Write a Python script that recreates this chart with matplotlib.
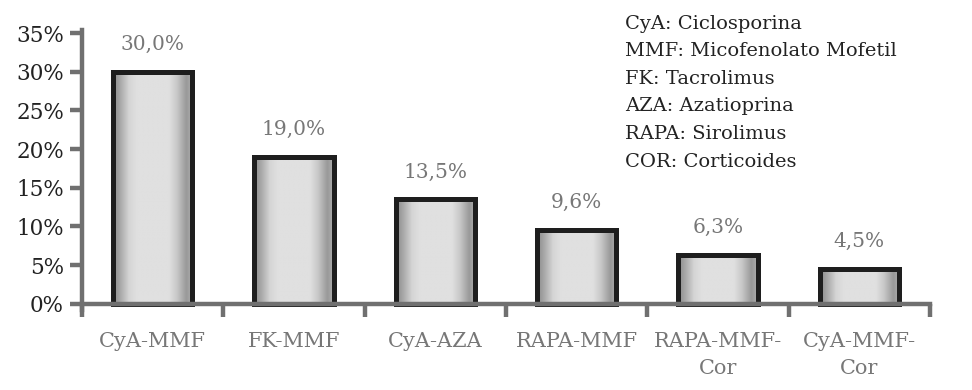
import numpy as np
import matplotlib
matplotlib.use("Agg")
import matplotlib.pyplot as plt
from matplotlib.colors import LinearSegmentedColormap

categories = ["CyA-MMF", "FK-MMF", "CyA-AZA", "RAPA-MMF", "RAPA-MMF-\nCor", "CyA-MMF-\nCor"]
values = [30.0, 19.0, 13.5, 9.6, 6.3, 4.5]
value_labels = ["30,0%", "19,0%", "13,5%", "9,6%", "6,3%", "4,5%"]
yticks = [0, 5, 10, 15, 20, 25, 30, 35]
ytick_labels = ["0%", "5%", "10%", "15%", "20%", "25%", "30%", "35%"]
legend_lines = ["CyA: Ciclosporina", "MMF: Micofenolato Mofetil", "FK: Tacrolimus",
                "AZA: Azatioprina", "RAPA: Sirolimus", "COR: Corticoides"]

plt.rcParams['font.family'] = ['DejaVu Serif']
fig = plt.figure(figsize=(9.72, 3.90), dpi=100)
ax = fig.add_axes([82/972, 80/390, (930-82)/972, (310-30)/390])

axis_col = "#707070"
x = np.arange(len(categories))
bars = ax.bar(x, values, width=0.56, facecolor="none", edgecolor="#1e1e1e",
              linewidth=3.6, zorder=3)

# horizontal gradient fill
grad = LinearSegmentedColormap.from_list("g", [
    (0.0, "#8a8a8a"), (0.08, "#a5a5a5"), (0.2, "#d5d5d5"), (0.3, "#e0e0e0"),
    (0.7, "#e0e0e0"), (0.8, "#c8c8c8"), (0.92, "#999999"), (1.0, "#b0b0b0")])
gimg = np.linspace(0, 1, 256).reshape(1, -1)
for b in bars:
    x0, w, h = b.get_x(), b.get_width(), b.get_height()
    im = ax.imshow(gimg, cmap=grad, aspect="auto", extent=[x0, x0 + w, 0, h],
                   zorder=2, interpolation="bilinear")
    im.set_clip_path(b)

for xi, v, lab in zip(x, values, value_labels):
    ax.text(xi, v + 2.3, lab, ha="center", va="bottom", fontsize=14.5, color="#777777")

ax.set_xlim(-0.5, len(categories) - 0.5)
ax.set_ylim(-0.8, 35.4)

for s in ["top", "right"]:
    ax.spines[s].set_visible(False)
ax.spines["left"].set_color(axis_col)
ax.spines["left"].set_linewidth(3.2)
ax.spines["bottom"].set_color(axis_col)
ax.spines["bottom"].set_linewidth(3.2)
ax.spines["bottom"].set_position(("data", 0))
ax.spines["left"].set_zorder(5)
ax.spines["bottom"].set_zorder(5)

ax.set_yticks(yticks)
ax.set_yticklabels(ytick_labels)
ax.tick_params(axis="y", length=9, width=3.2, color=axis_col, labelsize=15.5,
               labelcolor="#222222", pad=4)

ax.set_xticks(x)
ax.set_xticklabels(categories, linespacing=1.55)
ax.set_xticks(np.arange(len(categories) + 1) - 0.5, minor=True)
ax.tick_params(axis="x", which="major", length=0, labelsize=15, labelcolor="#777777", pad=20)
ax.tick_params(axis="x", which="minor", length=9, width=3.2, color=axis_col, direction="out")

for i, line in enumerate(legend_lines):
    fig.text(625/972, 1 - (24 + 27.5 * i)/390, line, ha="left", va="center",
             fontsize=14, color="#222222")

fig.savefig("out.png", dpi=100)
